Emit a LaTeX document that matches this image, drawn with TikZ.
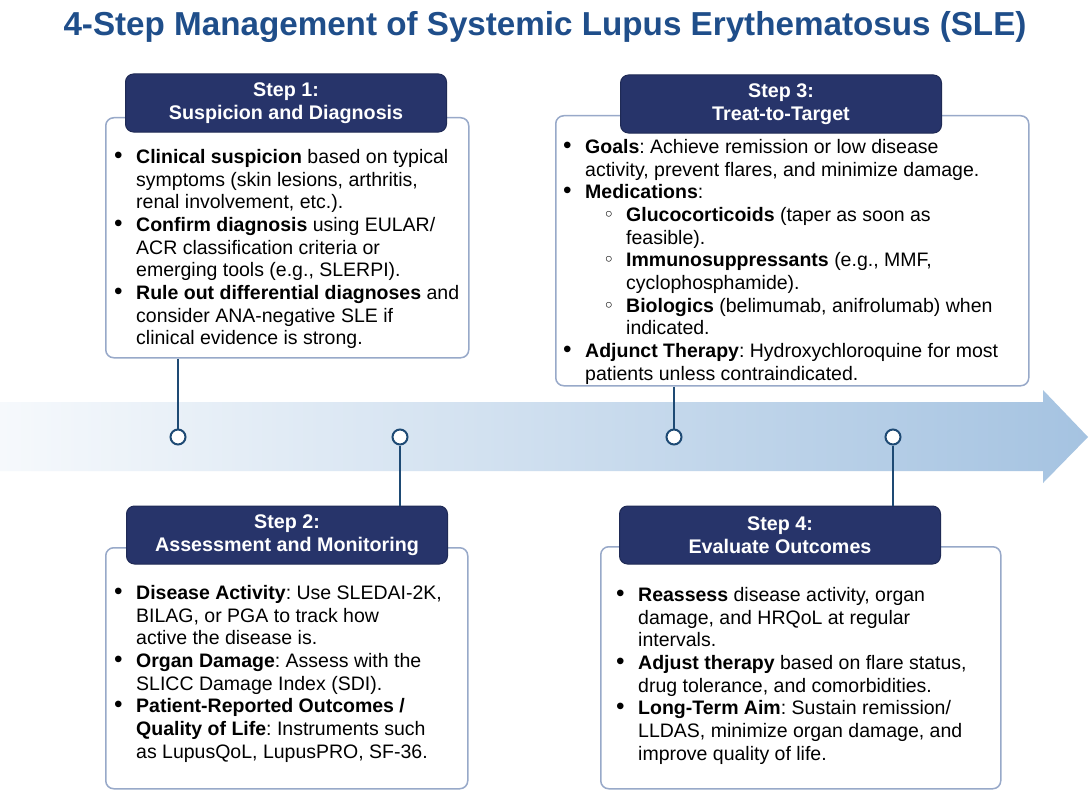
\documentclass[tikz,border=0pt]{standalone}
\usepackage{fontspec}
\setmainfont{Liberation Sans}
\newfontfamily\symfont{DejaVu Sans}
\usetikzlibrary{positioning,calc}
\definecolor{TitleBlue}{RGB}{31, 78, 138}
\definecolor{HeadNavy}{RGB}{39, 52, 106}
\definecolor{FrameBlue}{RGB}{152, 169, 201}
\definecolor{LinkBlue}{RGB}{30, 74, 116}
\definecolor{ArrowBlue}{RGB}{165, 195, 225}
\newcommand{\stepitem}[1]{\makebox[22pt][l]{\scalebox{1.25}{\textbullet}}#1}
\newcommand{\stepcont}[1]{\hspace*{22pt}#1}
\newcommand{\stepsub}[1]{\hspace*{40pt}\makebox[23pt][l]{\symfont ◦}#1}
\newcommand{\stepsubcont}[1]{\hspace*{63pt}#1}

\begin{document}
\begin{tikzpicture}[x=1pt, y=-1pt,
    headbox/.style={draw=HeadNavy!80!black, fill=HeadNavy, rounded corners=8pt, minimum width=321pt, minimum height=58pt, align=center, text=white, font=\fontsize{19.7}{23}\selectfont\bfseries, line width=1pt},
    bodybox/.style={draw=FrameBlue, fill=white, rounded corners=8pt, line width=1.5pt, anchor=north west, inner sep=0pt},
    bodytext/.style={anchor=north west, align=left, inner sep=0pt, font=\fontsize{19.5}{22.7}\selectfont\frenchspacing},
    dot/.style={circle, draw=LinkBlue, fill=white, line width=2pt, minimum size=15pt, inner sep=0pt},
    link/.style={draw=LinkBlue, line width=2pt},
  ]
    \fill[white] (0,0) rectangle (1091,797);
    \useasboundingbox (0,0) rectangle (1091,797);

    \node[font=\fontsize{33.2}{38}\selectfont\bfseries, text=TitleBlue] (title) at (545,27) {4-Step Management of Systemic Lupus Erythematosus (SLE)};

    % timeline arrow
    \shade[left color=ArrowBlue!10, right color=ArrowBlue] (0,402) -- (1043,402) -- (1043,390) -- (1088,437) -- (1043,483) -- (1043,471) -- (0,471) -- cycle;

    \node[dot] (d1) at (178,437) {};
    \node[dot] (d2) at (400,437) {};
    \node[dot] (d3) at (674,437) {};
    \node[dot] (d4) at (893,437) {};

    % step 1
    \node[bodybox, minimum width=363pt, minimum height=240pt] (b1) at (105,117) {};
    \node[headbox] (h1) at (286,103) {Step 1:\\Suspicion and Diagnosis};
    \node[bodytext] (t1) at (114,149) {
      \stepitem{\textbf{Clinical suspicion} based on typical}\\
      \stepcont{symptoms (skin lesions, arthritis,}\\
      \stepcont{renal involvement, etc.).}\\
      \stepitem{\textbf{Confirm diagnosis} using EULAR/}\\
      \stepcont{ACR classification criteria or}\\
      \stepcont{emerging tools (e.g., SLERPI).}\\
      \stepitem{\textbf{Rule out differential diagnoses} and}\\
      \stepcont{consider ANA-negative SLE if}\\
      \stepcont{clinical evidence is strong.}};

    % step 3
    \node[bodybox, minimum width=473pt, minimum height=270pt] (b3) at (555,115) {};
    \node[headbox] (h3) at (781,104) {Step 3:\\Treat-to-Target};
    \node[bodytext] (t3) at (563,139) {
      \stepitem{\textbf{Goals}: Achieve remission or low disease}\\
      \stepcont{activity, prevent flares, and minimize damage.}\\
      \stepitem{\textbf{Medications}:}\\
      \stepsub{\textbf{Glucocorticoids} (taper as soon as}\\
      \stepsubcont{feasible).}\\
      \stepsub{\textbf{Immunosuppressants} (e.g., MMF,}\\
      \stepsubcont{cyclophosphamide).}\\
      \stepsub{\textbf{Biologics} (belimumab, anifrolumab) when}\\
      \stepsubcont{indicated.}\\
      \stepitem{\textbf{Adjunct Therapy}: Hydroxychloroquine for most}\\
      \stepcont{patients unless contraindicated.}};

    % step 2
    \node[bodybox, minimum width=362pt, minimum height=241pt] (b2) at (105,547) {};
    \node[headbox] (h2) at (287,535) {Step 2:\\Assessment and Monitoring};
    \node[bodytext] (t2) at (114,585) {
      \stepitem{\textbf{Disease Activity}: Use SLEDAI-2K,}\\
      \stepcont{BILAG, or PGA to track how}\\
      \stepcont{active the disease is.}\\
      \stepitem{\textbf{Organ Damage}: Assess with the}\\
      \stepcont{SLICC Damage Index (SDI).}\\
      \stepitem{\textbf{Patient-Reported Outcomes /}}\\
      \stepcont{\textbf{Quality of Life}: Instruments such}\\
      \stepcont{as LupusQoL, LupusPRO, SF-36.}};

    % step 4
    \node[bodybox, minimum width=400pt, minimum height=242pt] (b4) at (600,546) {};
    \node[headbox] (h4) at (780,535) {Step 4:\\Evaluate Outcomes};
    \node[bodytext] (t4) at (616,587) {
      \stepitem{\textbf{Reassess} disease activity, organ}\\
      \stepcont{damage, and HRQoL at regular}\\
      \stepcont{intervals.}\\
      \stepitem{\textbf{Adjust therapy} based on flare status,}\\
      \stepcont{drug tolerance, and comorbidities.}\\
      \stepitem{\textbf{Long-Term Aim}: Sustain remission/}\\
      \stepcont{LLDAS, minimize organ damage, and}\\
      \stepcont{improve quality of life.}};

    \draw[link] (b1.south -| d1) -- (d1.north);
    \draw[link] (d2.south) -- (h2.north -| d2);
    \draw[link] (b3.south -| d3) -- (d3.north);
    \draw[link] (d4.south) -- (h4.north -| d4);
\end{tikzpicture}
\end{document}
